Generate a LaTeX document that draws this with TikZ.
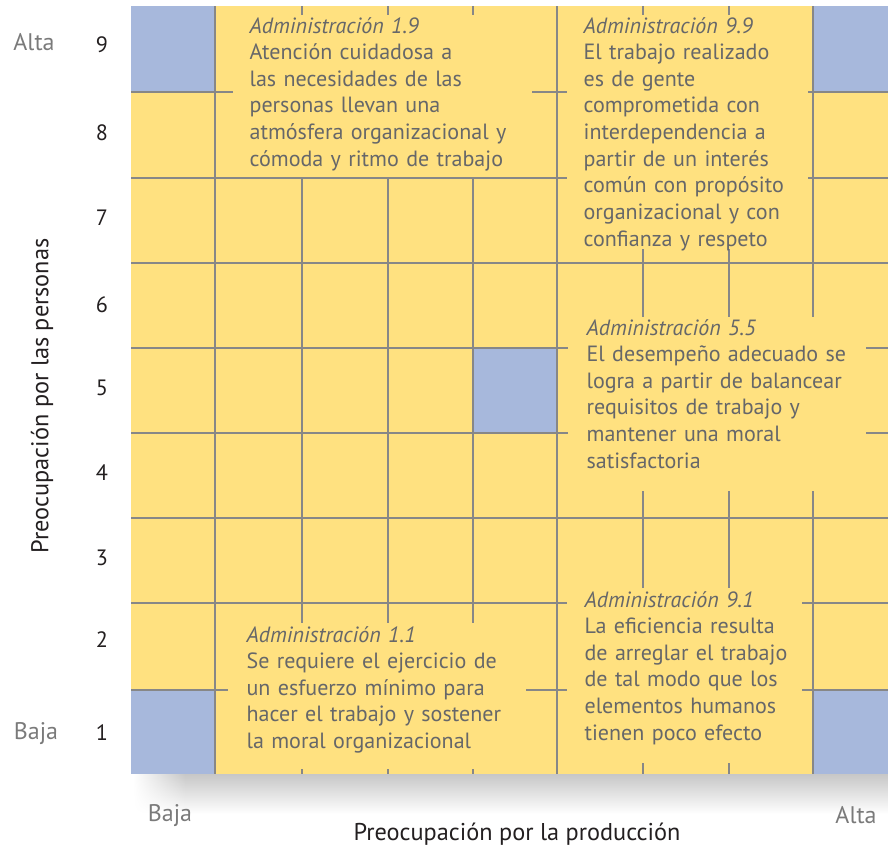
\documentclass[tikz,border=0pt]{standalone}
\usepackage{fontspec}
\setmainfont{PT Sans}
\usetikzlibrary{fadings}
\definecolor{cellyellow}{HTML}{FFE180}
\definecolor{cellblue}{HTML}{A7B8DC}
\definecolor{gridgray}{HTML}{878787}
\definecolor{txtgray}{HTML}{666769}
\definecolor{lblgray}{HTML}{7A7A7A}
\definecolor{axisblack}{HTML}{231F20}
\tikzfading[name=fadeleft, left color=transparent!100, right color=transparent!0]
\begin{document}
\begin{tikzpicture}[x=0.011723cm, y=-0.011723cm,
  gridline/.style={gridgray, line width=0.9pt},
  bluecell/.style={fill=cellblue, draw=none},
  desc/.style={anchor=base west, inner sep=0pt, text width=4.5cm, align=left,
    text=txtgray, font=\fontsize{7.35pt}{8.88pt}\selectfont},
  lbl/.style={inner sep=0pt, text=lblgray, font=\fontsize{8pt}{9pt}\selectfont},
  num/.style={inner sep=0pt, text=axisblack, font=\fontsize{7.4pt}{9pt}\selectfont},
  axistitle/.style={inner sep=0pt, text=axisblack, font=\fontsize{8.1pt}{10pt}\selectfont}]
\useasboundingbox (0,0) rectangle (888,850);
\begin{scope}
\clip (0,0) rectangle (888,850);
% shadow below the grid
\shade[top color=black!22, bottom color=white, path fading=fadeleft] (133,774) rectangle (185,814);
\shade[top color=black!22, bottom color=white] (185,774) rectangle (899,814);
% background grid
\fill[cellyellow] (131,6) rectangle (899,774);
% blue cells
\fill[bluecell] (131,6) rectangle (215,92);
\fill[bluecell] (813,6) rectangle (899,92);
\fill[bluecell] (473,348) rectangle (557,433);
\fill[bluecell] (131,690) rectangle (215,774);
\fill[bluecell] (813,690) rectangle (899,774);
% vertical lines
\draw[gridline] (215,6) -- (215,774);
\foreach \cx in {302,388,473}{
  \draw[gridline] (\cx,6) -- (\cx,15);
  \draw[gridline] (\cx,178) -- (\cx,623);
  \draw[gridline] (\cx,769) -- (\cx,774);
}
\draw[gridline] (557,6) -- (557,774);
\foreach \cx in {643,729}{
  \draw[gridline] (\cx,6) -- (\cx,15);
  \draw[gridline] (\cx,249) -- (\cx,317);
  \draw[gridline] (\cx,491) -- (\cx,588);
  \draw[gridline] (\cx,763) -- (\cx,774);
}
\draw[gridline] (813,6) -- (813,317);
\draw[gridline] (813,491) -- (813,774);
% horizontal lines
\draw[gridline] (131,92) -- (233,92);
\draw[gridline] (532,92) -- (567,92);
\draw[gridline] (808,92) -- (899,92);
\draw[gridline] (131,178) -- (567,178);
\draw[gridline] (808,178) -- (899,178);
\draw[gridline] (131,263) -- (899,263);
\draw[gridline] (131,348) -- (568,348);
\draw[gridline] (866,348) -- (899,348);
\draw[gridline] (131,433) -- (568,433);
\draw[gridline] (866,433) -- (899,433);
\draw[gridline] (131,518) -- (899,518);
\draw[gridline] (131,603) -- (567,603);
\draw[gridline] (802,603) -- (899,603);
\draw[gridline] (131,690) -- (228,690);
\draw[gridline] (526,690) -- (567,690);
\draw[gridline] (802,690) -- (899,690);
\end{scope}
% descriptions
\node[desc] (m19) at (249,33) {\textit{Administración 1.9}\\Atención cuidadosa a\\las necesidades de las\\personas llevan una\\atmósfera organizacional y\\cómoda y ritmo de trabajo};
\node[desc] (m99) at (583,33) {\textit{Administración 9.9}\\El trabajo realizado\\es de gente\\comprometida con\\interdependencia a\\partir de un interés\\común con propósito\\organizacional y con\\confianza y respeto};
\node[desc] (m55) at (586,335) {\textit{Administración 5.5}\\El desempeño adecuado se\\logra a partir de balancear\\requisitos de trabajo y\\mantener una moral\\satisfactoria};
\node[desc] (m91) at (584,607) {\textit{Administración 9.1}\\La eficiencia resulta\\de arreglar el trabajo\\de tal modo que los\\elementos humanos\\tienen poco efecto};
\node[desc] (m11) at (246,642) {\textit{Administración 1.1}\\Se requiere el ejercicio de\\un esfuerzo mínimo para\\hacer el trabajo y sostener\\la moral organizacional};
% axis labels
\node[lbl] (altaY) at (34,42) {Alta};
\node[lbl] (bajaY) at (36,734) {Baja};
\node[lbl] (bajaX) at (170,816) {Baja};
\node[lbl] (altaX) at (856,815) {Alta};
\node[num] (n9) at (102,45) {9};
\node[num] (n8) at (102,133) {8};
\node[num] (n7) at (102,218) {7};
\node[num] (n6) at (102,305) {6};
\node[num] (n5) at (102,388) {5};
\node[num] (n4) at (102,473) {4};
\node[num] (n3) at (102,558) {3};
\node[num] (n2) at (102,640) {2};
\node[num] (n1) at (102,733) {1};
\node[axistitle, rotate=90] (ytitle) at (42,396) {Preocupación por las personas};
\node[axistitle] (xtitle) at (517,834) {Preocupación por la producción};
\end{tikzpicture}
\end{document}
